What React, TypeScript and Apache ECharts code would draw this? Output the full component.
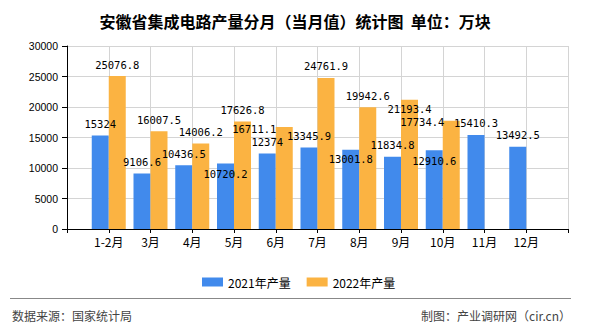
import React, { useEffect, useRef } from "react";
import * as echarts from "echarts";

const titleText = "安徽省集成电路产量分月（当月值）统计图  单位：万块";
const months = ["1-2月", "3月", "4月", "5月", "6月", "7月", "8月", "9月", "10月", "11月", "12月"];
const series2021Name = "2021年产量";
const series2022Name = "2022年产量";
const values2021 = [15324, 9106.6, 10436.5, 10720.2, 12374, 13345.9, 13001.8, 11834.8, 12910.6, 15410.3, 13492.5];
const values2022 = [25076.8, 16007.5, 14006.2, 17626.8, 16711.1, 24761.9, 19942.6, 21193.4, 17734.4];
const yTicks = { min: 0, max: 30000, interval: 5000 };
const sourceText = "数据来源：国家统计局";
const makerText = "制图：产业调研网（cir.cn）";

// label nudges (style only), indexed by month
const labelShift2021: Record<number, [number, number]> = { 3: [0, 22], 6: [0, 21], 8: [0, 22] };
const labelShift2022: Record<number, [number, number]> = { 4: [-30, 13], 7: [0, 21], 8: [-29, 13] };

const BLUE = "#418AEC";
const ORANGE = "#FBB342";

function buildData(vals: number[], shifts: Record<number, [number, number]>) {
  const out: any[] = ["-"];
  months.forEach((_, i) => {
    if (i < vals.length) {
      const item: any = { value: vals[i] };
      if (shifts[i]) item.label = { offset: shifts[i] };
      out.push(item);
    } else {
      out.push("-");
    }
  });
  out.push("-");
  return out;
}

export default function App() {
  const ref = useRef<HTMLDivElement>(null);
  useEffect(() => {
    if (!ref.current) return;
    const chart = echarts.init(ref.current, undefined, { renderer: "svg" });
    const labelStyle = {
      show: true,
      position: "top",
      distance: 6,
      color: "#000",
      fontSize: 10.5,
      fontFamily: "DejaVu Sans Mono, monospace",
    };
    chart.setOption({
      animation: false,
      backgroundColor: "#fff",
      title: {
        text: titleText,
        left: "center",
        top: 8,
        textStyle: {
          fontSize: 16,
          fontWeight: "bold",
          color: "#000",
          fontFamily: "Noto Sans CJK SC",
        },
      },
      legend: {
        left: 197,
        top: 271,
        itemWidth: 21,
        itemHeight: 9,
        itemGap: 16,
        icon: "rect",
        textStyle: { fontSize: 12, color: "#000", fontFamily: "Noto Sans CJK SC" },
        data: [series2021Name, series2022Name],
      },
      grid: { left: 67, right: 22, top: 46, bottom: 101, containLabel: false },
      xAxis: {
        type: "category",
        boundaryGap: false,
        data: ["", ...months, ""],
        axisLine: { lineStyle: { color: "#000", width: 1 } },
        axisTick: { show: true, length: 4, interval: 0, lineStyle: { color: "#000" } },
        axisLabel: {
          interval: 0,
          color: "#000",
          fontSize: 12,
          margin: 6,
          fontFamily: "Noto Sans CJK SC",
        },
        splitLine: { show: true, interval: 0, lineStyle: { color: "#D4D4D4", width: 1 } },
      },
      yAxis: {
        type: "value",
        min: yTicks.min,
        max: yTicks.max,
        interval: yTicks.interval,
        axisLine: { show: true, lineStyle: { color: "#000", width: 1 } },
        axisTick: { show: true, length: 5, lineStyle: { color: "#000" } },
        axisLabel: {
          color: "#000",
          fontSize: 10.5,
          margin: 9,
          fontFamily: "Liberation Sans, Arial, sans-serif",
          formatter: (v: number) => String(v),
        },
        splitLine: { show: true, lineStyle: { color: "#D4D4D4", width: 1 } },
      },
      series: [
        {
          name: series2021Name,
          type: "bar",
          barWidth: 17,
          barGap: "0%",
          itemStyle: { color: BLUE },
          label: labelStyle,
          data: buildData(values2021, labelShift2021),
        },
        {
          name: series2022Name,
          type: "bar",
          barWidth: 17,
          barGap: "0%",
          itemStyle: { color: ORANGE },
          label: labelStyle,
          data: buildData(values2022, labelShift2022),
        },
      ],
      graphic: [
        {
          type: "line",
          shape: { x1: 10, y1: 298.5, x2: 571, y2: 298.5 },
          style: { stroke: "#888", lineWidth: 1 },
        },
        {
          type: "text",
          left: 12,
          top: 309,
          style: {
            text: sourceText,
            fill: "#444",
            fontSize: 12,
            fontFamily: "Noto Sans CJK SC",
          },
        },
        {
          type: "text",
          right: 19,
          top: 309,
          style: {
            text: makerText,
            fill: "#444",
            fontSize: 12,
            fontFamily: "Noto Sans CJK SC",
          },
        },
      ],
    });
    return () => chart.dispose();
  }, []);
  return (
    <div
      ref={ref}
      style={{ position: "fixed", left: 0, top: 0, width: 590, height: 330 }}
    />
  );
}
